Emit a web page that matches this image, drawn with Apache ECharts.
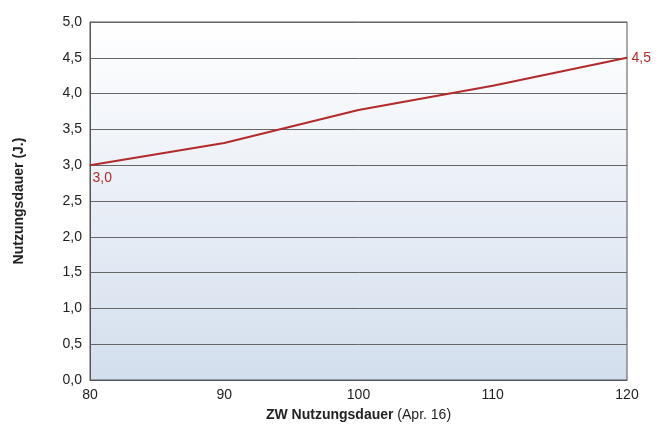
<!DOCTYPE html>
<html><head><meta charset="utf-8">
<script src="https://cdn.jsdelivr.net/npm/echarts@6/dist/echarts.min.js"></script>
<style>html,body{margin:0;padding:0;background:#fff}#c{width:662px;height:437px}</style>
</head><body><div id="c"></div>
<script>
const xValues = [80, 90, 100, 110, 120];
const yValues = [3.0, 3.31, 3.77, 4.11, 4.5];
const fmt = v => v.toFixed(1).replace('.', ',');
const chart = echarts.init(document.getElementById('c'));
chart.setOption({
  animation: false,
  grid: {left: 90, right: 35, top: 22, bottom: 57,
    show: true, borderColor: '#555', borderWidth: 1,
    backgroundColor: new echarts.graphic.LinearGradient(0,0,0,1,[{offset:0,color:'#ffffff'},{offset:1,color:'#d3deed'}])},
  xAxis: {type: 'value', min: 80, max: 120, interval: 10,
    name: '{b|ZW Nutzungsdauer} (Apr. 16)', nameLocation: 'middle', nameGap: 28,
    nameTextStyle: {fontFamily: 'Liberation Sans', fontSize: 14, color: '#222', rich: {b: {fontWeight: 'bold', fontSize: 14, fontFamily: 'Liberation Sans', color: '#222'}}},
    axisLine: {lineStyle: {color: '#555'}}, axisTick: {show: false}, splitLine: {show: false},
    axisLabel: {fontFamily: 'Liberation Sans', fontSize: 14, color: '#222', margin: 8}},
  yAxis: {type: 'value', min: 0, max: 5, interval: 0.5,
    name: 'Nutzungsdauer (J.)', nameLocation: 'middle', nameGap: 64,
    nameTextStyle: {fontFamily: 'Liberation Sans', fontSize: 14, fontWeight: 'bold', color: '#222'},
    axisLine: {show: true, lineStyle: {color: '#555'}}, axisTick: {show: false},
    splitLine: {lineStyle: {color: '#666', width: 1}},
    axisLabel: {fontFamily: 'Liberation Sans', fontSize: 14, color: '#222', formatter: fmt}},
  series: [{type: 'line', data: xValues.map((x,i)=>[x,yValues[i]]),
    symbol: 'circle', symbolSize: 1, showSymbol: true, itemStyle: {color: '#b22a2a'},
    lineStyle: {color: '#b22a2a', width: 2},
    label: {show: true, fontFamily: 'Liberation Sans', fontSize: 14, color: '#b22a2a',
      formatter: p => (p.dataIndex===0||p.dataIndex===xValues.length-1) ? fmt(p.value[1]) : '',
      position: 'right', distance: 4},
    labelLayout: p => p.dataIndex===0 ? {dx: -2, dy: 13} : {}
  }]
});
</script></body></html>
